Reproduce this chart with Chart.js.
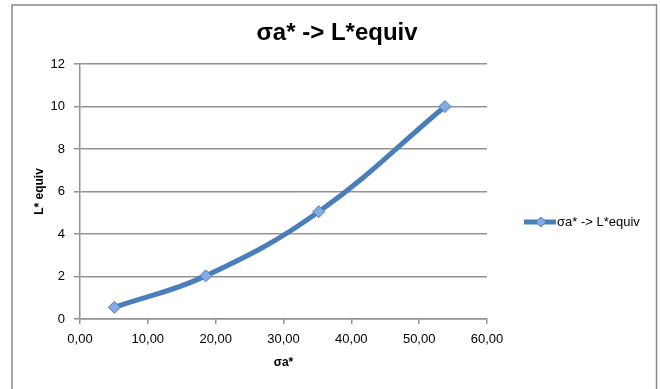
<!DOCTYPE html>
<html>
<head>
<meta charset="utf-8">
<script src="https://cdn.jsdelivr.net/npm/chart.js@4"></script>
<style>
    body { margin: 0; background: #fff; }
    #wrap { width: 660px; height: 389px; position: relative; }
</style>
</head>
<body>
<div id="wrap"><canvas id="chart1" width="660" height="389"></canvas></div>
<script>
// Datos
var sigmaA = [5.07, 18.54, 35.2, 53.8];
var lEquiv = [0.55, 2.03, 5.05, 10.0];
var nombreSerie = "σa* -> L*equiv";
var xTicks = [0, 10, 20, 30, 40, 50, 60];
var yTicks = [0, 2, 4, 6, 8, 10, 12];

var colorLinea = "#4A7EBB";
var colorGris = "#939393";
var fuente = "'Liberation Sans', Arial, sans-serif";

Chart.defaults.font.family = fuente;
Chart.defaults.color = "#000";

// Marco exterior, titulo centrado en todo el grafico y leyenda a la derecha
var marcoYLeyenda = {
    id: "marcoYLeyenda",
    afterDraw: function (chart) {
        var ctx = chart.ctx;
        ctx.save();
        ctx.strokeStyle = "#8a8a8a";
        ctx.lineWidth = 1.5;
        ctx.strokeRect(12, 5, 644.5, 400);

        // titulo
        ctx.fillStyle = "#000";
        ctx.font = "bold 24px " + fuente;
        ctx.textAlign = "center";
        ctx.textBaseline = "middle";
        ctx.fillText(nombreSerie, 337, 33);

        // leyenda
        var y = 222;
        ctx.strokeStyle = colorLinea;
        ctx.lineWidth = 5;
        ctx.beginPath();
        ctx.moveTo(524, y);
        ctx.lineTo(556, y);
        ctx.stroke();

        ctx.fillStyle = "#82AAE3";
        ctx.strokeStyle = colorLinea;
        ctx.lineWidth = 1;
        ctx.beginPath();
        ctx.moveTo(541, y - 5);
        ctx.lineTo(546, y);
        ctx.lineTo(541, y + 5);
        ctx.lineTo(536, y);
        ctx.closePath();
        ctx.fill();
        ctx.stroke();

        ctx.fillStyle = "#000";
        ctx.font = "13px " + fuente;
        ctx.textAlign = "left";
        ctx.fillText(chart.data.datasets[0].label, 557, y);
        ctx.restore();
    }
};

var puntos = sigmaA.map(function (x, i) {
    return { x: x, y: lEquiv[i] };
});

function formatoComa(v) {
    return v.toFixed(2).replace(".", ",");
}

new Chart("chart1", {
    type: "scatter",
    data: {
        datasets: [{
            label: nombreSerie,
            data: puntos,
            showLine: true,
            tension: 0.4,
            borderColor: colorLinea,
            borderWidth: 5,
            pointStyle: "rectRot",
            pointRadius: 6,
            pointHoverRadius: 6,
            pointBackgroundColor: "#82AAE3",
            pointBorderColor: colorLinea,
            pointBorderWidth: 1
        }]
    },
    options: {
        responsive: false,
        animation: false,
        devicePixelRatio: 1,
        layout: {
            padding: { top: 64, left: 12, right: 173, bottom: 0 }
        },
        plugins: {
            legend: { display: false },
            tooltip: { enabled: false },
            title: { display: false }
        },
        scales: {
            x: {
                type: "linear",
                min: xTicks[0],
                max: xTicks[xTicks.length - 1],
                afterFit: function (scale) { scale.height = 70; },
                afterBuildTicks: function (scale) {
                    scale.ticks = xTicks.map(function (v) { return { value: v }; });
                },
                ticks: {
                    padding: 8,
                    maxRotation: 0,
                    font: { size: 13 },
                    callback: function (v) { return formatoComa(v); }
                },
                grid: {
                    drawOnChartArea: false,
                    drawTicks: true,
                    tickLength: 5,
                    color: colorGris,
                    lineWidth: 1.5
                },
                border: { display: true, color: colorGris, width: 1.5 },
                title: {
                    display: true,
                    text: "σa*",
                    font: { size: 12, weight: "bold", lineHeight: 1.2 },
                    padding: { top: 0, bottom: 19 }
                }
            },
            y: {
                type: "linear",
                min: yTicks[0],
                max: yTicks[yTicks.length - 1],
                afterFit: function (scale) { scale.width = 68; },
                afterBuildTicks: function (scale) {
                    scale.ticks = yTicks.map(function (v) { return { value: v }; });
                },
                ticks: {
                    padding: 9,
                    font: { size: 13 }
                },
                grid: {
                    drawTicks: true,
                    tickLength: 6,
                    color: colorGris,
                    lineWidth: 1.5
                },
                border: { display: true, color: colorGris, width: 1.5 },
                title: {
                    display: true,
                    text: "L* equiv",
                    font: { size: 12, weight: "bold", lineHeight: 1.2 },
                    padding: { top: 20, bottom: 0 }
                }
            }
        }
    },
    plugins: [marcoYLeyenda]
});
</script>
</body>
</html>
